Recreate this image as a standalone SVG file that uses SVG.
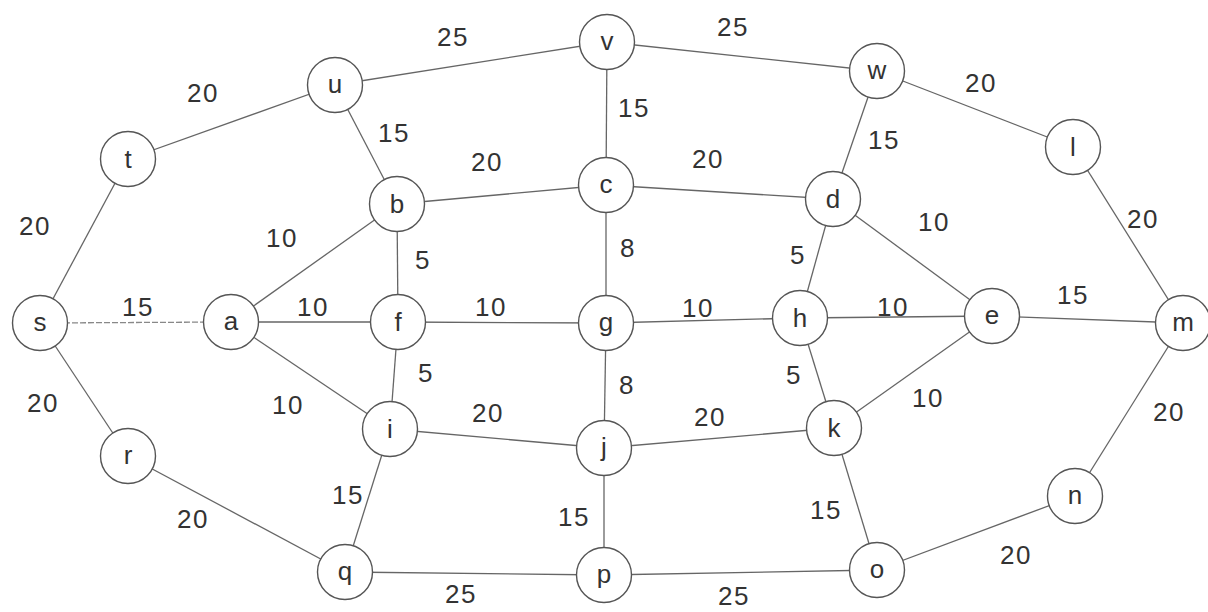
<svg xmlns="http://www.w3.org/2000/svg" width="1208" height="612" viewBox="0 0 1208 612">
<style>
.e{stroke:#666;stroke-width:1.3;fill:none}
.d{stroke:#888;stroke-dasharray:6 2}
.n circle{fill:#fff;stroke:#555;stroke-width:1.4}
text{font-family:"Liberation Sans",Arial,sans-serif;font-size:26px;fill:#333;text-anchor:middle}
#weights text{letter-spacing:1.5px}
</style>
<rect width="1208" height="612" fill="#fff"/>
<g id="connectors">
<line class="e" x1="128" y1="159" x2="335" y2="85"/>
<line class="e" x1="335" y1="85" x2="607" y2="42"/>
<line class="e" x1="607" y1="42" x2="877" y2="71"/>
<line class="e" x1="877" y1="71" x2="1073" y2="147"/>
<line class="e" x1="40" y1="323" x2="128" y2="159"/>
<line class="e" x1="335" y1="85" x2="397" y2="204"/>
<line class="e" x1="607" y1="42" x2="606" y2="185"/>
<line class="e" x1="877" y1="71" x2="833" y2="199"/>
<line class="e" x1="1073" y1="147" x2="1183" y2="323"/>
<line class="e" x1="397" y1="204" x2="606" y2="185"/>
<line class="e" x1="606" y1="185" x2="833" y2="199"/>
<line class="e" x1="231" y1="322" x2="397" y2="204"/>
<line class="e" x1="397" y1="204" x2="398" y2="322"/>
<line class="e" x1="606" y1="185" x2="606" y2="323"/>
<line class="e" x1="833" y1="199" x2="800" y2="318"/>
<line class="e" x1="833" y1="199" x2="992" y2="316"/>
<line class="e d" x1="40" y1="323" x2="231" y2="322"/>
<line class="e" x1="231" y1="322" x2="398" y2="322"/>
<line class="e" x1="398" y1="322" x2="606" y2="323"/>
<line class="e" x1="606" y1="323" x2="800" y2="318"/>
<line class="e" x1="800" y1="318" x2="992" y2="316"/>
<line class="e" x1="992" y1="316" x2="1183" y2="323"/>
<line class="e" x1="40" y1="323" x2="128" y2="456"/>
<line class="e" x1="231" y1="322" x2="390" y2="429"/>
<line class="e" x1="398" y1="322" x2="390" y2="429"/>
<line class="e" x1="606" y1="323" x2="604" y2="448"/>
<line class="e" x1="800" y1="318" x2="834" y2="428"/>
<line class="e" x1="834" y1="428" x2="992" y2="316"/>
<line class="e" x1="1183" y1="323" x2="1075" y2="496"/>
<line class="e" x1="390" y1="429" x2="604" y2="448"/>
<line class="e" x1="604" y1="448" x2="834" y2="428"/>
<line class="e" x1="128" y1="456" x2="345" y2="572"/>
<line class="e" x1="390" y1="429" x2="345" y2="572"/>
<line class="e" x1="604" y1="448" x2="604" y2="575"/>
<line class="e" x1="834" y1="428" x2="877" y2="570"/>
<line class="e" x1="877" y1="570" x2="1075" y2="496"/>
<line class="e" x1="345" y1="572" x2="604" y2="575"/>
<line class="e" x1="604" y1="575" x2="877" y2="570"/>
</g>
<g id="weights">
<text x="203" y="102">20</text>
<text x="453" y="46">25</text>
<text x="733" y="36">25</text>
<text x="981" y="92">20</text>
<text x="35" y="235">20</text>
<text x="394" y="142">15</text>
<text x="634" y="117">15</text>
<text x="884" y="149">15</text>
<text x="1143" y="228">20</text>
<text x="487" y="171">20</text>
<text x="708" y="168">20</text>
<text x="282" y="247">10</text>
<text x="423" y="269">5</text>
<text x="628" y="257">8</text>
<text x="798" y="264">5</text>
<text x="934" y="231">10</text>
<text x="138" y="316">15</text>
<text x="313" y="316">10</text>
<text x="491" y="316">10</text>
<text x="698" y="317">10</text>
<text x="893" y="316">10</text>
<text x="1073" y="304">15</text>
<text x="43" y="412">20</text>
<text x="288" y="414">10</text>
<text x="426" y="382">5</text>
<text x="627" y="394">8</text>
<text x="794" y="384">5</text>
<text x="928" y="407">10</text>
<text x="1169" y="421">20</text>
<text x="488" y="422">20</text>
<text x="710" y="426">20</text>
<text x="193" y="528">20</text>
<text x="348" y="504">15</text>
<text x="574" y="526">15</text>
<text x="826" y="519">15</text>
<text x="1016" y="564">20</text>
<text x="461" y="603">25</text>
<text x="734" y="605">25</text>
</g>
<g id="node-v" class="n"><circle cx="607" cy="42" r="27.5"/><text x="607" y="50">v</text></g>
<g id="node-u" class="n"><circle cx="335" cy="85" r="27.5"/><text x="335" y="93">u</text></g>
<g id="node-w" class="n"><circle cx="877" cy="71" r="27.5"/><text x="877" y="79">w</text></g>
<g id="node-t" class="n"><circle cx="128" cy="159" r="27.5"/><text x="128" y="168">t</text></g>
<g id="node-l" class="n"><circle cx="1073" cy="147" r="27.5"/><text x="1073" y="156">l</text></g>
<g id="node-b" class="n"><circle cx="397" cy="204" r="27.5"/><text x="397" y="213">b</text></g>
<g id="node-c" class="n"><circle cx="606" cy="185" r="27.5"/><text x="606" y="193">c</text></g>
<g id="node-d" class="n"><circle cx="833" cy="199" r="27.5"/><text x="833" y="208">d</text></g>
<g id="node-s" class="n"><circle cx="40" cy="323" r="27.5"/><text x="40" y="331">s</text></g>
<g id="node-a" class="n"><circle cx="231" cy="322" r="27.5"/><text x="231" y="330">a</text></g>
<g id="node-f" class="n"><circle cx="398" cy="322" r="27.5"/><text x="398" y="331">f</text></g>
<g id="node-g" class="n"><circle cx="606" cy="323" r="27.5"/><text x="606" y="331">g</text></g>
<g id="node-h" class="n"><circle cx="800" cy="318" r="27.5"/><text x="800" y="327">h</text></g>
<g id="node-e" class="n"><circle cx="992" cy="316" r="27.5"/><text x="992" y="324">e</text></g>
<g id="node-m" class="n"><circle cx="1183" cy="323" r="27.5"/><text x="1183" y="331">m</text></g>
<g id="node-i" class="n"><circle cx="390" cy="429" r="27.5"/><text x="390" y="438">i</text></g>
<g id="node-j" class="n"><circle cx="604" cy="448" r="27.5"/><text x="604" y="456">j</text></g>
<g id="node-k" class="n"><circle cx="834" cy="428" r="27.5"/><text x="834" y="437">k</text></g>
<g id="node-r" class="n"><circle cx="128" cy="456" r="27.5"/><text x="128" y="464">r</text></g>
<g id="node-n" class="n"><circle cx="1075" cy="496" r="27.5"/><text x="1075" y="504">n</text></g>
<g id="node-q" class="n"><circle cx="345" cy="572" r="27.5"/><text x="345" y="580">q</text></g>
<g id="node-p" class="n"><circle cx="604" cy="575" r="27.5"/><text x="604" y="583">p</text></g>
<g id="node-o" class="n"><circle cx="877" cy="570" r="27.5"/><text x="877" y="578">o</text></g>
</svg>
